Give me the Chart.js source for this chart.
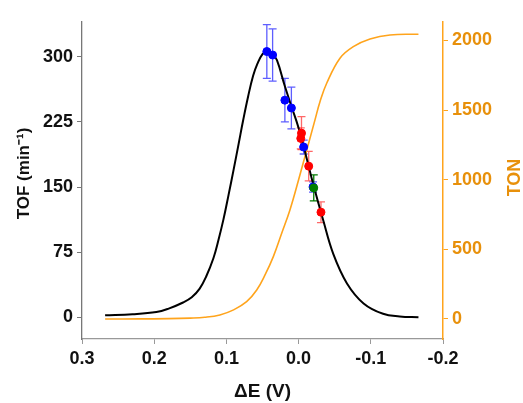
<!DOCTYPE html>
<html>
<head>
<meta charset="utf-8">
<script src="https://cdn.jsdelivr.net/npm/chart.js@4.4.0/dist/chart.umd.min.js"></script>
<style>
  body { margin: 0; background: #fff; }
  #wrap { width: 523px; height: 403px; }
</style>
</head>
<body>
<div id="wrap"><canvas id="tof-chart"></canvas></div>
<script>
// TOF model curve (black)
var tofE = [0.268, 0.23, 0.197, 0.18, 0.16, 0.148, 0.137, 0.128, 0.118, 0.111, 0.104, 0.097, 0.09, 0.083, 0.077, 0.07, 0.063, 0.057, 0.05, 0.044, 0.036, 0.03, 0.019, 0.01, 0.0, -0.01, -0.02, -0.034, -0.048, -0.067, -0.09, -0.117, -0.14, -0.166];
var tofV = [2.3, 3.5, 6, 10, 17, 23, 33, 47, 68, 89, 113, 141, 170, 200, 226, 254, 278, 292, 303, 306, 303, 296, 266, 243, 218, 187, 154, 112, 73, 39, 16, 4, 1, 0];

// TON curve (orange, right axis)
var tonE = [0.268, 0.22, 0.18, 0.15, 0.13, 0.109, 0.09, 0.072, 0.058, 0.0465, 0.035, 0.0234, 0.012, 0.0, -0.0227, -0.0296, -0.0389, -0.0573, -0.0758, -0.0989, -0.1266, -0.166];
var tonV = [0, 0.5, 2, 6, 12, 29, 65, 124, 208, 316, 448, 616, 783, 1000, 1430, 1561, 1693, 1873, 1956, 2011, 2040, 2045];

// measured points with error bars
var blueE = [0.044, 0.036, 0.019, 0.010, -0.007, -0.020];
var blueV = [306, 302, 250, 241, 196, 150];
var blueErr = [31, 30, 25, 24, 8, 6];
var redE = [-0.004, -0.003, -0.014, -0.031];
var redV = [212, 206, 174, 121];
var redErr = [19, 12, 17, 12];
var greenE = [-0.021];
var greenV = [149];
var greenErr = [15];

var xTicks = [0.3, 0.2, 0.1, 0.0, -0.1, -0.2];
var tofTicks = [0, 75, 150, 225, 300];
var tonTicks = [0, 500, 1000, 1500, 2000];

function pts(xs, ys) {
    return xs.map(function (x, i) { return { x: x, y: ys[i] }; });
}

var ORANGE = '#ffa41c';
var ORANGE_TXT = '#e8900a';
var FONT = '"Liberation Sans", Arial, sans-serif';

var errorBars = {
    id: 'errorBars',
    beforeDatasetsDraw: function (chart) {
        var ctx = chart.ctx;
        var ys = chart.scales.y;
        chart.data.datasets.forEach(function (ds, di) {
            if (!ds.errors) return;
            var meta = chart.getDatasetMeta(di);
            ctx.save();
            ctx.strokeStyle = ds.errorColor;
            ctx.lineWidth = 1.3;
            meta.data.forEach(function (el, i) {
                var v = ds.data[i].y, e = ds.errors[i];
                var top = ys.getPixelForValue(v + e);
                var bot = ys.getPixelForValue(v - e);
                ctx.beginPath();
                ctx.moveTo(el.x, top); ctx.lineTo(el.x, bot);
                ctx.moveTo(el.x - 4, top); ctx.lineTo(el.x + 4, top);
                ctx.moveTo(el.x - 4, bot); ctx.lineTo(el.x + 4, bot);
                ctx.stroke();
            });
            ctx.restore();
        });
    }
};

var axisTitles = {
    id: 'axisTitles',
    afterDraw: function (chart) {
        var ctx = chart.ctx;
        var a = chart.chartArea;
        var cy = (a.top + a.bottom) / 2;
        ctx.save();
        ctx.textAlign = 'center';
        ctx.textBaseline = 'middle';
        ctx.font = 'bold 17px ' + FONT;
        ctx.fillStyle = '#111';
        ctx.translate(24, cy - 7);
        ctx.rotate(-Math.PI / 2);
        ctx.fillText('TOF (min\u207B\u00B9)', 0, 0);
        ctx.restore();

        ctx.save();
        ctx.textAlign = 'center';
        ctx.textBaseline = 'middle';
        ctx.font = 'bold 18px ' + FONT;
        ctx.fillStyle = ORANGE_TXT;
        ctx.translate(515, cy - 3);
        ctx.rotate(-Math.PI / 2);
        ctx.fillText('TON', 0, 0);
        ctx.restore();

        ctx.save();
        ctx.textAlign = 'center';
        ctx.textBaseline = 'middle';
        ctx.font = 'bold 19px ' + FONT;
        ctx.fillStyle = '#111';
        ctx.fillText('\u0394E (V)', (a.left + a.right) / 2, 392);
        ctx.restore();
    }
};

var ctx = document.getElementById('tof-chart').getContext('2d');
var config = {
    type: 'scatter',
    data: {
        datasets: [{
            label: 'TOF',
            type: 'line',
            data: pts(tofE, tofV),
            borderColor: '#000',
            borderWidth: 2,
            pointRadius: 0,
            tension: 0.4,
            yAxisID: 'y',
            order: 3
        }, {
            label: 'TON',
            type: 'line',
            data: pts(tonE, tonV),
            borderColor: ORANGE,
            borderWidth: 1.6,
            pointRadius: 0,
            tension: 0.4,
            yAxisID: 'y2',
            order: 4
        }, {
            label: 'blue',
            data: pts(blueE, blueV),
            errors: blueErr,
            errorColor: 'rgba(40,40,255,0.75)',
            backgroundColor: '#0000ff',
            borderColor: '#0000ff',
            pointRadius: 4,
            yAxisID: 'y',
            order: 2
        }, {
            label: 'red',
            data: pts(redE, redV),
            errors: redErr,
            errorColor: 'rgba(255,40,40,0.7)',
            backgroundColor: '#ff0000',
            borderColor: '#ff0000',
            pointRadius: 4,
            yAxisID: 'y',
            order: 1
        }, {
            label: 'green',
            data: pts(greenE, greenV),
            errors: greenErr,
            errorColor: '#007a00',
            backgroundColor: '#008000',
            borderColor: '#008000',
            pointRadius: 4,
            yAxisID: 'y',
            order: 0
        }]
    },
    options: {
        responsive: true,
        maintainAspectRatio: false,
        animation: false,
        layout: { padding: { top: 22, left: 0, right: 0, bottom: 0 } },
        plugins: { legend: { display: false }, tooltip: { enabled: false } },
        scales: {
            x: {
                type: 'linear',
                reverse: true,
                min: -0.2,
                max: 0.3,
                afterFit: function (s) { s.height = 64; },
                afterBuildTicks: function (s) { s.ticks = xTicks.map(function (v) { return { value: v }; }); },
                grid: { drawOnChartArea: false, drawTicks: true, tickLength: 5, color: '#999' },
                border: { display: true, color: '#999', width: 1.3 },
                ticks: {
                    color: '#111',
                    padding: 4,
                    maxRotation: 0,
                    font: { family: FONT, size: 18, weight: 'bold' },
                    callback: function (v) { return Number(v).toFixed(1); }
                }
            },
            y: {
                position: 'left',
                min: -25,
                max: 340,
                afterFit: function (s) { s.width = 82; },
                afterBuildTicks: function (s) { s.ticks = tofTicks.map(function (v) { return { value: v }; }); },
                grid: { drawOnChartArea: false, drawTicks: true, tickLength: 5, color: '#777' },
                border: { display: true, color: '#777', width: 1.3 },
                ticks: {
                    color: '#111',
                    padding: 4,
                    font: { family: FONT, size: 18, weight: 'bold' }
                }
            },
            y2: {
                position: 'right',
                min: -144,
                max: 2133,
                afterFit: function (s) { s.width = 80; },
                afterBuildTicks: function (s) { s.ticks = tonTicks.map(function (v) { return { value: v }; }); },
                grid: { drawOnChartArea: false, drawTicks: true, tickLength: 5, color: ORANGE },
                border: { display: true, color: ORANGE, width: 1.5 },
                ticks: {
                    color: ORANGE_TXT,
                    padding: 4,
                    font: { family: FONT, size: 18, weight: 'bold' },
                    callback: function (v) { return String(v); }
                }
            }
        }
    },
    plugins: [errorBars, axisTitles]
};

var chart = new Chart(ctx, config);
</script>
</body>
</html>
